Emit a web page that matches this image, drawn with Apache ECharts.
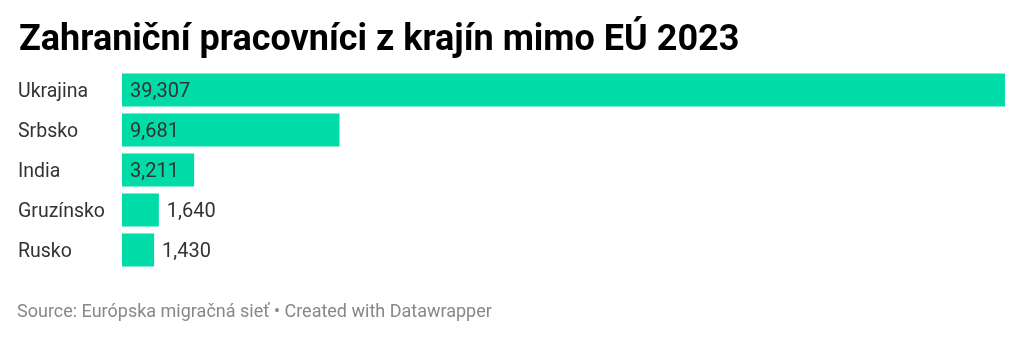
<!DOCTYPE html>
<html><head><meta charset="utf-8">
<script src="https://cdn.jsdelivr.net/npm/echarts@6/dist/echarts.min.js"></script>
<style>html,body{margin:0;padding:0;background:#fff}#c{width:1024px;height:337px}</style>
</head><body><div id="c"></div>
<script>
const categories = ["Ukrajina", "Srbsko", "India", "Gruzínsko", "Rusko"];
const values = [39307, 9681, 3211, 1640, 1430];
const titleText = "Zahraniční pracovníci z krajín mimo EÚ 2023";
const sourceText = "Source: Európska migračná sieť • Created with Datawrapper";

const chart = echarts.init(document.getElementById('c'), null, {renderer: 'canvas'});
const fmt = v => v.toLocaleString('en-US');
const maxV = Math.max(...values);
chart.setOption({
  animation: false,
  textStyle: {fontFamily: 'Roboto'},
  title: [
    {text: titleText, left: 14, top: 18, textStyle: {fontFamily: 'Roboto', fontWeight: 'bold', fontSize: 36, color: '#000'}},
    {text: sourceText, left: 12, top: 298, textStyle: {fontFamily: 'Roboto', fontWeight: 'normal', fontSize: 18, color: '#888'}}
  ],
  grid: {left: 122, right: 19, top: 70, height: 200},
  xAxis: {type: 'value', min: 0, max: maxV, show: false},
  yAxis: {
    type: 'category', data: categories, inverse: true,
    axisLine: {show: false}, axisTick: {show: false},
    axisLabel: {show: true, margin: 104, align: 'left', color: '#333',
      formatter: v => '{a|' + v + '}',
      rich: {a: {fontSize: 19.5, color: '#333', fontFamily: 'Roboto', padding: [4, 0, 0, 0]}}}
  },
  series: [{
    type: 'bar', data: values.map((v, i) => ({
      value: v,
      label: v / maxV > 0.06
        ? {show: true, position: 'insideLeft', distance: 8, color: '#333'}
        : {show: true, position: 'right', distance: 8, color: '#333'}
    })),
    barCategoryGap: '17.5%',
    itemStyle: {color: '#00dba8'},
    label: {fontSize: 20, fontFamily: 'Roboto', offset: [0, 2], formatter: p => fmt(p.value)}
  }]
});
</script></body></html>
